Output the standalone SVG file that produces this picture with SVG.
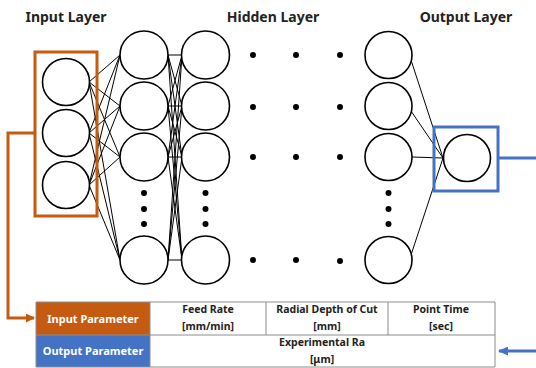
<svg xmlns="http://www.w3.org/2000/svg" width="536" height="368" viewBox="0 0 536 368">
<defs>
<style>
.n{fill:#fff;stroke:#000;stroke-width:1.6}
.c line{stroke:#000;stroke-width:1}
.d{fill:#000}
.t{font-family:"Noto Sans","Liberation Sans",sans-serif;font-weight:bold;font-size:14px;fill:#222;text-anchor:middle}
.tb{font-family:"Noto Sans","Liberation Sans",sans-serif;font-weight:bold;font-size:10.5px;fill:#222;text-anchor:middle}
.tw{font-family:"Noto Sans","Liberation Sans",sans-serif;font-weight:bold;font-size:11px;fill:#fff;text-anchor:middle}
.g{stroke:#8c8c8c;stroke-width:1;fill:none}
</style>
<marker id="ao" markerWidth="9" markerHeight="9" refX="8" refY="4.5" orient="auto" markerUnits="userSpaceOnUse"><path d="M0,0 L9,4.5 L0,9 Z" fill="#C55A11"/></marker>
<marker id="ab" markerWidth="10" markerHeight="9" refX="9" refY="4.5" orient="auto" markerUnits="userSpaceOnUse"><path d="M0,0 L10,4.5 L0,9 Z" fill="#4472C4"/></marker>
</defs>
<rect width="536" height="368" fill="#fff"/>
<text class="t" x="66" y="22">Input Layer</text>
<text class="t" x="273" y="22">Hidden Layer</text>
<text class="t" x="466" y="22">Output Layer</text>

<g id="connectors" class="c">
<line x1="89" y1="82" x2="120" y2="55"/><line x1="89" y1="82" x2="120" y2="106"/><line x1="89" y1="82" x2="120" y2="157"/><line x1="89" y1="82" x2="120" y2="260"/>
<line x1="89" y1="133" x2="120" y2="55"/><line x1="89" y1="133" x2="120" y2="106"/><line x1="89" y1="133" x2="120" y2="157"/><line x1="89" y1="133" x2="120" y2="260"/>
<line x1="89" y1="185" x2="120" y2="55"/><line x1="89" y1="185" x2="120" y2="106"/><line x1="89" y1="185" x2="120" y2="157"/><line x1="89" y1="185" x2="120" y2="260"/>
<line x1="168" y1="55" x2="182" y2="55"/><line x1="168" y1="55" x2="182" y2="106"/><line x1="168" y1="55" x2="182" y2="157"/><line x1="168" y1="55" x2="182" y2="260"/>
<line x1="168" y1="106" x2="182" y2="55"/><line x1="168" y1="106" x2="182" y2="106"/><line x1="168" y1="106" x2="182" y2="157"/><line x1="168" y1="106" x2="182" y2="260"/>
<line x1="168" y1="157" x2="182" y2="55"/><line x1="168" y1="157" x2="182" y2="106"/><line x1="168" y1="157" x2="182" y2="157"/><line x1="168" y1="157" x2="182" y2="260"/>
<line x1="168" y1="260" x2="182" y2="55"/><line x1="168" y1="260" x2="182" y2="106"/><line x1="168" y1="260" x2="182" y2="157"/><line x1="168" y1="260" x2="182" y2="260"/>
<line x1="411" y1="60" x2="443" y2="158"/><line x1="411" y1="111" x2="443" y2="158"/><line x1="412" y1="157" x2="443" y2="158"/><line x1="411" y1="255" x2="443" y2="158"/>
<path d="M35,133 H8 V318 H34" fill="none" stroke="#C55A11" stroke-width="3" marker-end="url(#ao)"/>
<path d="M498,158 H540 V351 H499" fill="none" stroke="#4472C4" stroke-width="3" marker-end="url(#ab)"/>
</g>

<g id="input-layer">
<rect x="35" y="52" width="62" height="164" fill="none" stroke="#C55A11" stroke-width="3"/>
<circle class="n" cx="66" cy="82" r="23.5"/>
<circle class="n" cx="66" cy="133" r="23.5"/>
<circle class="n" cx="66" cy="185" r="23.5"/>
</g>
<g id="hidden-1">
<circle class="n" cx="144" cy="55" r="24"/>
<circle class="n" cx="144" cy="106" r="24"/>
<circle class="n" cx="144" cy="157" r="24"/>
<circle class="n" cx="144" cy="260" r="24"/>
<circle class="d" cx="144" cy="193" r="3"/><circle class="d" cx="144" cy="209" r="3"/><circle class="d" cx="144" cy="224" r="3"/>
</g>
<g id="hidden-2">
<circle class="n" cx="205.5" cy="55" r="24"/>
<circle class="n" cx="205.5" cy="106" r="24"/>
<circle class="n" cx="205.5" cy="157" r="24"/>
<circle class="n" cx="205.5" cy="260" r="24"/>
<circle class="d" cx="205.5" cy="193" r="3"/><circle class="d" cx="205.5" cy="209" r="3"/><circle class="d" cx="205.5" cy="224" r="3"/>
</g>
<g id="hidden-dots">
<circle class="d" cx="253" cy="55" r="3"/><circle class="d" cx="296" cy="55" r="3"/><circle class="d" cx="340" cy="55" r="3"/>
<circle class="d" cx="253" cy="107" r="3"/><circle class="d" cx="296" cy="107" r="3"/><circle class="d" cx="340" cy="107" r="3"/>
<circle class="d" cx="253" cy="157" r="3"/><circle class="d" cx="296" cy="157" r="3"/><circle class="d" cx="340" cy="157" r="3"/>
<circle class="d" cx="253" cy="260" r="3"/><circle class="d" cx="296" cy="260" r="3"/><circle class="d" cx="340" cy="261" r="3"/>
</g>
<g id="hidden-last">
<circle class="n" cx="388.5" cy="55" r="23.5"/>
<circle class="n" cx="388.5" cy="106" r="23.5"/>
<circle class="n" cx="388.5" cy="157" r="23.5"/>
<circle class="n" cx="388.5" cy="260" r="23.5"/>
<circle class="d" cx="388.5" cy="193" r="3"/><circle class="d" cx="388.5" cy="209" r="3"/><circle class="d" cx="388.5" cy="224" r="3"/>
</g>
<g id="output-layer">
<rect x="434" y="127" width="64" height="64" fill="none" stroke="#4472C4" stroke-width="3"/>
<circle class="n" cx="467" cy="158" r="23.5"/>
</g>

<g id="table">
<rect x="36" y="302" width="114" height="33" fill="#C55A11"/>
<rect x="36" y="335" width="114" height="32" fill="#4472C4"/>
<path class="g" d="M36,302 H495 V367 H36 Z M36,335 H495 M150,302 V367 M266,302 V335 M388,302 V335"/>
<text class="tw" x="93" y="322.5">Input Parameter</text>
<text class="tw" x="93" y="355">Output Parameter</text>
<text class="tb" x="208" y="313">Feed Rate</text>
<text class="tb" x="208" y="330">[mm/min]</text>
<text class="tb" x="327" y="313">Radial Depth of Cut</text>
<text class="tb" x="327" y="330">[mm]</text>
<text class="tb" x="441" y="313">Point Time</text>
<text class="tb" x="441" y="330">[sec]</text>
<text class="tb" x="322" y="346">Experimental Ra</text>
<text class="tb" x="322" y="363">[μm]</text>
</g>
</svg>
